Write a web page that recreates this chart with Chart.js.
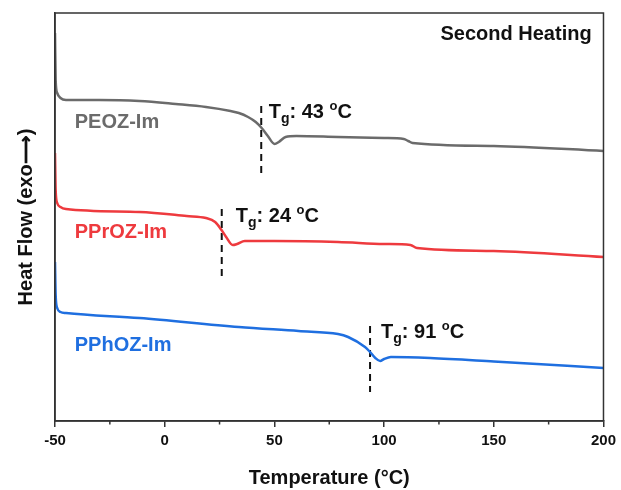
<!DOCTYPE html>
<html>
<head>
<meta charset="utf-8">
<script src="https://cdn.jsdelivr.net/npm/chart.js@4"></script>
<style>
  body { margin: 0; background: #fff; }
  #wrap { width: 621px; height: 490px; }
</style>
</head>
<body>
<div id="wrap"><canvas id="dscChart"></canvas></div>
<script>
// temperature (°C) and heat flow (arbitrary units, offset curves)
var peozT = [-50, -49.7, -49, -47.5, -45, -30, -11.5, 5, 18.8, 30, 33.8, 38, 41.5, 44.2, 47, 50.1, 52, 55.1, 60, 79, 100, 109, 111, 113, 150, 200];
var peozHF = [388, 341, 328, 323, 321, 321, 320, 317, 314, 310, 308, 304, 299, 293, 285, 277, 279, 284, 285, 284, 283, 282, 280, 278, 275, 270];

var pprozT = [-50, -49.7, -49, -47.5, -45, -11.5, 10, 18.8, 23, 25.9, 28, 31, 33, 36.5, 50, 79, 100, 112, 115, 150, 200];
var pprozHF = [268, 231, 218, 214, 212, 209, 205, 203, 199, 191, 184, 176, 177, 180, 180, 179, 177, 176, 173, 170, 164];

var pphozT = [-50, -49.7, -49, -47.5, -45, -11.5, 33.8, 61, 79, 83.6, 91.3, 93.6, 96, 98.2, 100, 103.1, 121, 150, 200];
var pphozHF = [159, 126, 113, 109, 108, 103, 94, 90, 87, 84, 74, 69, 63, 60, 62, 64, 63, 59.5, 53];

var seriesNames = ['PEOZ-Im', 'PPrOZ-Im', 'PPhOZ-Im'];
var seriesColors = ['#6b6b6b', '#ee3a3e', '#1f6fe0'];
var tgValues = [43, 24, 91];
// dashed marker: x position and vertical extent
var tgLineT = [44, 26, 93.6];
var tgLineFrom = [315, 212, 95];
var tgLineTo = [248, 144, 29];

var xTicks = [-50, 0, 50, 100, 150, 200];

function toPoints(xs, ys) {
  return xs.map(function(x, i) { return {x: x, y: ys[i]}; });
}

var curves = [[peozT, peozHF], [pprozT, pprozHF], [pphozT, pphozHF]];
var datasets = curves.map(function(c, i) {
  return {
    label: seriesNames[i],
    data: toPoints(c[0], c[1]),
    borderColor: seriesColors[i],
    borderWidth: 2.5,
    pointRadius: 0,
    cubicInterpolationMode: 'monotone',
    fill: false
  };
});
tgLineT.forEach(function(t, i) {
  datasets.push({
    label: 'Tg ' + seriesNames[i],
    data: [{x: t, y: tgLineFrom[i]}, {x: t, y: tgLineTo[i]}],
    borderColor: '#111',
    borderWidth: 2,
    borderDash: [7, 5],
    pointRadius: 0
  });
});

var FONT = '"Liberation Sans", Arial, sans-serif';

// text annotations (placed in data coordinates)
var seriesLabelPos = [[-41, 293], [-41, 183], [-41, 70]];
var tgLabelPos = [[47.4, 303], [32.4, 199], [98.6, 83]];

function drawRich(ctx, x, y, parts) {
  parts.forEach(function(p) {
    ctx.font = 'bold ' + p.size + 'px ' + FONT;
    ctx.fillText(p.t, x, y + (p.dy || 0));
    x += ctx.measureText(p.t).width;
  });
}

var annotate = {
  id: 'annotate',
  afterDatasetsDraw: function(chart) {
    var ctx = chart.ctx, xs = chart.scales.x, ys = chart.scales.y, a = chart.chartArea;
    ctx.save();
    // frame
    ctx.strokeStyle = '#333';
    ctx.lineWidth = 1.5;
    ctx.strokeRect(a.left, a.top, a.right - a.left, a.bottom - a.top);
    // minor ticks
    for (var v = -25; v < 200; v += 50) {
      var px = xs.getPixelForValue(v);
      ctx.beginPath();
      ctx.moveTo(px, a.bottom);
      ctx.lineTo(px, a.bottom + 3.5);
      ctx.stroke();
    }
    ctx.textBaseline = 'alphabetic';
    ctx.textAlign = 'left';
    seriesNames.forEach(function(name, i) {
      ctx.fillStyle = seriesColors[i];
      ctx.font = 'bold 20px ' + FONT;
      ctx.fillText(name, xs.getPixelForValue(seriesLabelPos[i][0]), ys.getPixelForValue(seriesLabelPos[i][1]));
      ctx.fillStyle = '#111';
      drawRich(ctx, xs.getPixelForValue(tgLabelPos[i][0]), ys.getPixelForValue(tgLabelPos[i][1]), [
        {t: 'T', size: 20},
        {t: 'g', size: 14, dy: 5},
        {t: ': ' + tgValues[i] + ' ', size: 20},
        {t: 'o', size: 13, dy: -8},
        {t: 'C', size: 20}
      ]);
    });
    ctx.fillStyle = '#111';
    ctx.textAlign = 'right';
    ctx.font = 'bold 20px ' + FONT;
    ctx.fillText('Second Heating', xs.getPixelForValue(194.6), ys.getPixelForValue(381));
    ctx.restore();
  }
};

new Chart(document.getElementById('dscChart'), {
  type: 'line',
  data: { datasets: datasets },
  options: {
    responsive: true,
    maintainAspectRatio: false,
    animation: false,
    layout: { padding: { top: 13, right: 14, left: 0, bottom: 0 } },
    scales: {
      x: {
        type: 'linear',
        min: -50,
        max: 200,
        afterFit: function(scale) { scale.height = 69; },
        afterBuildTicks: function(scale) {
          scale.ticks = xTicks.map(function(v) { return {value: v}; });
        },
        grid: {
          drawOnChartArea: false,
          tickLength: 6,
          tickColor: '#333',
          lineWidth: 1.5
        },
        border: { color: '#333', width: 1.5 },
        ticks: {
          padding: 5,
          color: '#111',
          maxRotation: 0,
          font: { family: FONT, size: 15, weight: 'bold' }
        },
        title: {
          display: true,
          text: 'Temperature (°C)',
          color: '#111',
          padding: { top: 0, bottom: 0 },
          font: { family: FONT, size: 20, weight: 'bold' }
        }
      },
      y: {
        min: 0,
        max: 408,
        afterFit: function(scale) { scale.width = 55; },
        grid: { display: false },
        border: { color: '#333', width: 1.5 },
        ticks: { display: false },
        title: {
          display: true,
          text: 'Heat Flow (exo⟶)',
          color: '#111',
          padding: { top: 14, bottom: 0 },
          font: { family: FONT, size: 20, weight: 'bold' }
        }
      }
    },
    plugins: {
      legend: { display: false },
      tooltip: { enabled: false }
    }
  },
  plugins: [annotate]
});
</script>
</body>
</html>
